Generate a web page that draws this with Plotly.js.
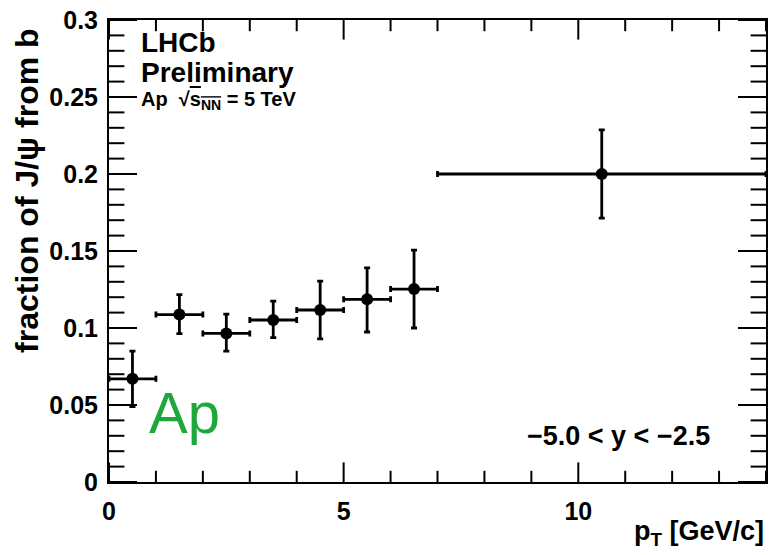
<!DOCTYPE html>
<html><head><meta charset="utf-8">
<script src="https://cdn.plot.ly/plotly-3.0.1.min.js"></script>
<style>body{margin:0;background:#fff}#c{width:769px;height:555px}</style>
</head><body><div id="c"></div>
<script>
const ptCenters = [0.5, 1.5, 2.5, 3.5, 4.5, 5.5, 6.5, 10.5];
const ptHalfWidths = [0.5, 0.5, 0.5, 0.5, 0.5, 0.5, 0.5, 3.5];
const fraction = [0.067, 0.1087, 0.0965, 0.1052, 0.1117, 0.1186, 0.1253, 0.2];
const errUp = [0.018, 0.013, 0.0125, 0.0123, 0.0188, 0.0204, 0.0253, 0.0286];
const errDown = [0.018, 0.0124, 0.0115, 0.0115, 0.0188, 0.0212, 0.0253, 0.0286];
const xTickVals = [0, 5, 10];
const xTickText = ['0', '5', '10'];
const yTickVals = [0, 0.05, 0.1, 0.15, 0.2, 0.25, 0.3];
const yTickText = ['0', '0.05', '0.1', '0.15', '0.2', '0.25', '0.3'];
const xRange = [0, 14];
const yRange = [0, 0.3];
const xMinorStep = 1;
const yMinorStep = 0.01;

const F = 'Liberation Sans, Arial, sans-serif';

// frame tick marks (ROOT style, inside on all four sides), built from the tick arrays
function minorList(r, step, majors) {
  const out = [];
  const n = Math.round((r[1] - r[0]) / step);
  for (let i = 0; i <= n; i++) {
    const v = +(r[0] + i * step).toFixed(6);
    if (!majors.some(m => Math.abs(m - v) < step / 10)) out.push(v);
  }
  return out;
}
const xMinor = minorList(xRange, xMinorStep, xTickVals);
const yMinor = minorList(yRange, yMinorStep, yTickVals);
function tickTrace(xs, ys, symbol, size) {
  return {x: xs, y: ys, type: 'scatter', mode: 'markers', cliponaxis: true, showlegend: false, hoverinfo: 'skip',
    marker: {symbol: symbol, size: size, color: 'black', line: {color: 'black', width: 2}}};
}
const edgeX = (vals) => vals.concat(vals);
const tickTraces = [
  tickTrace(edgeX(xTickVals), xTickVals.map(() => yRange[0]).concat(xTickVals.map(() => yRange[1])), 'line-ns', 28),
  tickTrace(edgeX(xMinor), xMinor.map(() => yRange[0]).concat(xMinor.map(() => yRange[1])), 'line-ns', 16),
  tickTrace(yTickVals.map(() => xRange[0]).concat(yTickVals.map(() => xRange[1])), edgeX(yTickVals), 'line-ew', 40),
  tickTrace(yMinor.map(() => xRange[0]).concat(yMinor.map(() => xRange[1])), edgeX(yMinor), 'line-ew', 22)
];

const trace = {
  x: ptCenters, y: fraction, type: 'scatter', mode: 'markers',
  marker: {color: 'black', size: 12},
  error_y: {type: 'data', array: errUp, arrayminus: errDown, symmetric: false, color: 'black', thickness: 2.8, width: 3},
  error_x: {type: 'data', array: ptHalfWidths, color: 'black', thickness: 2.8, width: 3},
  showlegend: false, cliponaxis: false
};

function axis(range, vals, text) {
  return {
    range: range, tickmode: 'array', tickvals: vals, ticktext: text, ticks: '',
    showline: true, linewidth: 2, linecolor: 'black', mirror: true, showgrid: false, zeroline: false,
    tickfont: {size: 25, family: F, weight: 'bold', color: 'black'}
  };
}
const xa = axis(xRange, xTickVals, xTickText);
xa.ticklabelstandoff = 6;
const ya = axis(yRange, yTickVals, yTickText);
ya.ticklabelstandoff = 4;

const layout = {
  width: 769, height: 555,
  margin: {l: 109, r: 3, t: 20, b: 73},
  paper_bgcolor: 'white', plot_bgcolor: 'white',
  font: {family: F, color: 'black'},
  xaxis: xa, yaxis: ya,
  annotations: [
    {xref: 'paper', yref: 'paper', x: -0.125, y: 0.632, xanchor: 'center', yanchor: 'middle', textangle: -90, showarrow: false,
     text: '<b>fraction of J/ψ from b</b>', font: {size: 32, family: F}},
    {xref: 'paper', yref: 'paper', x: 0.045, y: 0.99, xanchor: 'left', yanchor: 'top', showarrow: false,
     text: '<b>LHCb</b>', font: {size: 28, family: F}},
    {xref: 'paper', yref: 'paper', x: 0.045, y: 0.925, xanchor: 'left', yanchor: 'top', showarrow: false,
     text: '<b>Preliminary</b>', font: {size: 28, family: F}},
    {xref: 'paper', yref: 'paper', x: 0.045, y: 0.857, xanchor: 'left', yanchor: 'top', showarrow: false,
     text: '<b>Ap  √<span style="text-decoration:overline">s<sub>NN</sub></span> = 5 TeV</b>', font: {size: 20, family: F}},
    {xref: 'paper', yref: 'paper', x: 0.058, y: 0.075, xanchor: 'left', yanchor: 'bottom', showarrow: false,
     text: 'Ap', font: {size: 58, family: F, color: 'rgb(30,168,60)'}},
    {xref: 'paper', yref: 'paper', x: 0.918, y: 0.1, xanchor: 'right', yanchor: 'middle', showarrow: false,
     text: '<b>−5.0 < y < −2.5</b>', font: {size: 27, family: F}},
    {xref: 'paper', yref: 'paper', x: 1.0, y: -0.07, xanchor: 'right', yanchor: 'top', showarrow: false,
     text: '<b>p<sub>T</sub> [GeV/c]</b>', font: {size: 27, family: F}}
  ]
};
Plotly.newPlot('c', tickTraces.concat([trace]), layout, {displayModeBar: false, staticPlot: true});
</script></body></html>
